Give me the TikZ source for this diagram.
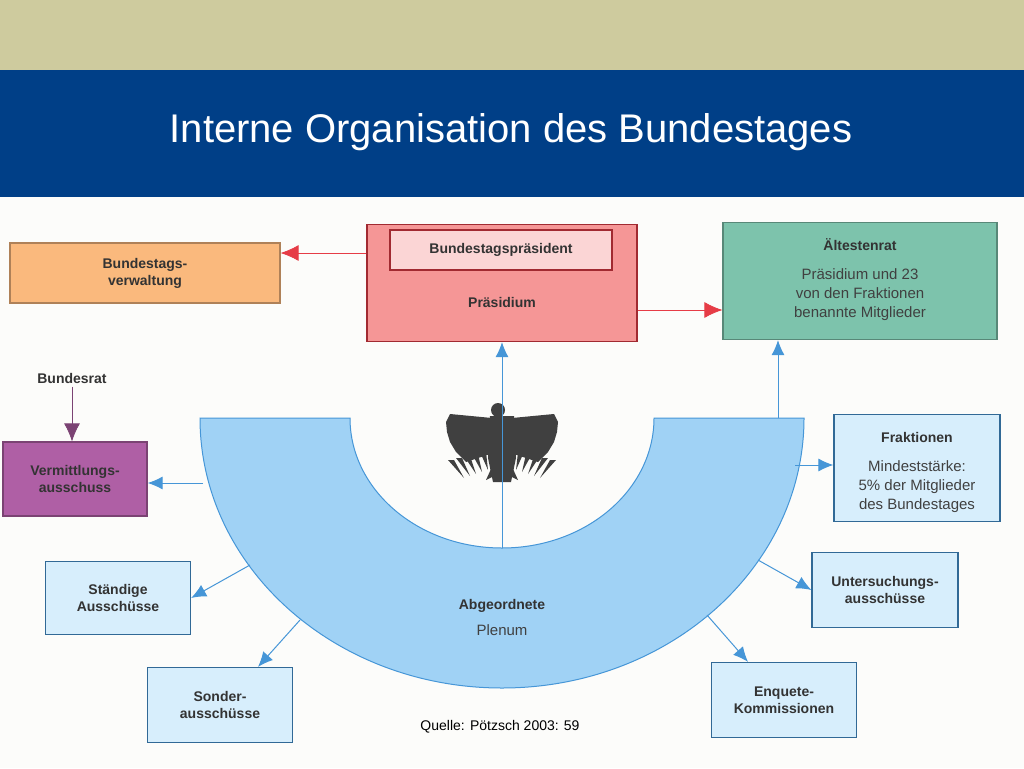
\documentclass[tikz,border=0pt]{standalone}
\usepackage{fontspec}
\setmainfont{Liberation Sans}
\usetikzlibrary{positioning}
\usetikzlibrary{arrows.meta}
\definecolor{khaki}{RGB}{206,203,158}
\definecolor{navy}{RGB}{0,63,135}
\definecolor{skyfill}{RGB}{160,210,245}
\definecolor{skyline}{RGB}{70,150,215}
\definecolor{boxfill}{RGB}{215,238,252}
\definecolor{orangefill}{RGB}{250,185,125}
\definecolor{pinkfill}{RGB}{245,150,150}
\definecolor{tealfill}{RGB}{125,195,172}
\definecolor{purplefill}{RGB}{175,95,165}
\definecolor{arrowred}{RGB}{230,60,70}

\tikzset{
  org/.style={draw=#1!70!black, line width=1.2pt, align=center, inner sep=0pt,
    font=\bfseries\fontsize{14}{17}\selectfont, text=black!80},
  bluebox/.style={org=skyline, fill=boxfill},
  bluearrow/.style={draw=skyline, line width=1pt, -{Latex[length=15pt,width=13pt]}},
  redarrow/.style={draw=arrowred, line width=0.8pt, -{Latex[length=18pt,width=16pt]}}
}

\begin{document}
\begin{tikzpicture}[x=1pt,y=-1pt]
      \useasboundingbox (0,0) rectangle (1024,768);
      %% Background bands
      \fill[white!95!khaki] (0,0) rectangle (1024,768);
      \fill[khaki] (0,0) rectangle (1024,70);
      \fill[navy] (0,70) rectangle (1024,197);
      \node[text=white, font=\fontsize{40}{44}\selectfont] (title) at (511,132)
        {Interne Organisation des Bundestages};

      %% Top boxes
      \node[org=orangefill, fill=orangefill, minimum width=270pt, minimum height=60pt] (verw) at (145,273)
        {Bundestags-\\verwaltung};
      \node[org=arrowred, fill=pinkfill, minimum width=270pt, minimum height=117pt] (praes) at (502,283) {};
      \node[org=arrowred, fill=pinkfill!40, minimum width=222pt, minimum height=40pt] (bpraes) at (501,250)
        {Bundestagspräsident};
      \node[text=black!80, font=\bfseries\fontsize{14}{17}\selectfont] (praesidium) at (502,302) {Präsidium};
      \node[org=tealfill, fill=tealfill, minimum width=274pt, minimum height=117pt] (aelt) at (860,281) {};
      \node[font=\bfseries\fontsize{14}{17}\selectfont, text=black!80] (aelttitle) at (860,245) {Ältestenrat};
      \node[align=center, font=\fontsize{15}{19}\selectfont, text=black!75] (aelttext) at (860,295)
        {Präsidium und 23\\von den Fraktionen\\benannte Mitglieder};

      %% Bundesrat and Vermittlungsausschuss
      \node[font=\bfseries\fontsize{14}{17}\selectfont, text=black!80] (brat) at (72,378) {Bundesrat};
      \node[org=purplefill, fill=purplefill, minimum width=144pt, minimum height=74pt] (verm) at (75,479)
        {Vermittlungs-\\ausschuss};

      %% Plenum half ring
      \filldraw[fill=skyfill, draw=skyline, line width=1pt]
        (200,418) arc[start angle=180, end angle=360, x radius=302pt, y radius=270pt]
        -- (654,418) arc[start angle=0, end angle=-180, x radius=152pt, y radius=130pt] -- cycle;
      \node[font=\bfseries\fontsize{14}{17}\selectfont, text=black!80] (abg) at (502,606) {Abgeordnete};
      \node[font=\fontsize{15}{17}\selectfont, text=black!75] (plenum) at (502,630) {Plenum};
      \coordinate (ringtop) at (502,548);
      \coordinate (ringright) at (778,418);

      %% Eagle
      \begin{scope}[shift={(502,440)}, fill=black!75]
        \fill (-4,-30) circle (7pt);
        \fill (-12,-24) -- (12,-24) -- (14,18) -- (-14,18) -- cycle;
        \foreach \s in {1,-1}
        {%
          \fill[xscale=\s] (10,-22) -- (52,-26) -- (56,-18) -- (55,-8) -- (52,2) -- (46,12) -- (36,22) -- (12,14) -- cycle;
          \foreach \f in {0,1,2,3,4}
            \fill[xscale=\s] ({16+8*\f},{12+2*\f}) -- ({22+8*\f},{12+2*\f}) -- ({14+6*\f},{30+2*\f}) -- cycle;
          \fill[xscale=\s] (6,18) -- (16,40) -- (4,34) -- cycle;
        }
        \fill (-14,18) -- (14,18) -- (9,42) -- (-9,42) -- cycle;
      \end{scope}

      %% Side boxes
      \node[bluebox, minimum width=166pt, minimum height=107pt] (frak) at (917,468) {};
      \node[font=\bfseries\fontsize{14}{17}\selectfont, text=black!80] (fraktitle) at (917,437) {Fraktionen};
      \node[align=center, font=\fontsize{15}{19}\selectfont, text=black!75] (fraktext) at (917,487)
        {Mindeststärke:\\5\% der Mitglieder\\des Bundestages};
      \node[bluebox, minimum width=146pt, minimum height=75pt] (unters) at (885,590) {Untersuchungs-\\ausschüsse};
      \node[bluebox, minimum width=145pt, minimum height=75pt] (enq) at (784,700) {Enquete-\\Kommissionen};
      \node[bluebox, minimum width=145pt, minimum height=73pt] (staend) at (118,598) {Ständige\\Ausschüsse};
      \node[bluebox, minimum width=145pt, minimum height=75pt] (sonder) at (220,705) {Sonder-\\ausschüsse};

      %% Connectors
      \coordinate (pw) at (praes.west |- 0,253);
      \draw[redarrow] (pw) -- (pw -| verw.east);
      \coordinate (pe) at (praes.east |- 0,310);
      \draw[redarrow] (pe) -- (pe -| aelt.west);
      \draw[redarrow, draw=purplefill!70!black] (brat) -- (verm.north -| brat);
      \draw[bluearrow] (ringtop) -- (praes.south);
      \draw[bluearrow] (ringright) -- (ringright |- aelt.south);
      \coordinate (vfrom) at (203,483);
      \draw[bluearrow] (vfrom) -- (vfrom -| verm.east);
      \coordinate (ffrom) at (795,465);
      \draw[bluearrow] (ffrom) -- (ffrom -| frak.west);
      \coordinate (ufrom) at (758,560);
      \draw[bluearrow] (ufrom) -- (unters.west);
      \coordinate (efrom) at (707,615);
      \draw[bluearrow] (efrom) -- (enq.north -| 748,0);
      \coordinate (sfrom) at (250,565);
      \draw[bluearrow] (sfrom) -- (staend.east);
      \coordinate (sofrom) at (300,620);
      \draw[bluearrow] (sofrom) -- (sonder.north -| 258,0);

      %% Source
      \node[font=\fontsize{14}{16}\selectfont] (quelle) at (500,727) {Quelle: Pötzsch 2003: 59};
\end{tikzpicture}
\end{document}
